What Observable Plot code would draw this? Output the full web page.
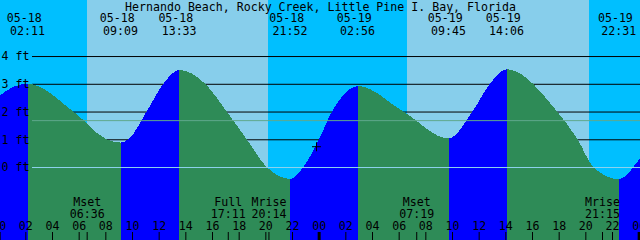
<!DOCTYPE html>
<html><head><meta charset="utf-8">
<script src="https://cdn.jsdelivr.net/npm/d3@7"></script>
<script src="https://cdn.jsdelivr.net/npm/@observablehq/plot@0.6"></script>
<style>
html,body{margin:0;padding:0;background:#fff;}
#chart svg{display:block;}
</style>
</head><body><div id="chart"></div>
<script>
// ---------- data ----------
const title = "Hernando Beach, Rocky Creek, Little Pine I. Bay, Florida";

// tide extremes labelled along the top
const tideDates  = ["05-18","05-18","05-18","05-18","05-19","05-19","05-19","05-19"];
const tideTimes  = ["02:11","09:09","13:33","21:52","02:56","09:45","14:06","22:31"];
const tideLevels = [3.0, 0.88, 3.5, -0.43, 2.92, 1.03, 3.52, -0.44];

// extremes just outside the visible window (estimated)
const prevStamp = "05-17 20:30", prevLevel = -0.4;
const nextStamp = "05-20 03:30", nextLevel = 2.9;

// intermediate curve readings (level crossings)
const readStamps = ["05-18 00:06","05-18 05:36","05-18 08:06","05-18 09:44","05-18 11:06",
  "05-18 12:21","05-18 15:29","05-18 17:06","05-18 18:36","05-18 20:06","05-18 22:51",
  "05-19 00:02","05-19 01:00","05-19 06:21","05-19 11:32","05-19 12:51","05-19 17:53",
  "05-19 19:25","05-19 20:36","05-20 00:06"];
const readLevels = [2.58, 2.0, 1.0, 1.0, 2.0, 3.0, 3.0, 2.0, 1.0, 0.0, 0.0,
  1.0, 2.0, 2.0, 2.0, 3.0, 2.0, 1.0, 0.0, 0.31];

const sunriseStamps = ["05-18 06:38","05-19 06:38"];
const sunsetStamps  = ["05-18 20:14","05-19 20:16"];

const moonNames  = ["Mset","Full","Mrise","Mset","Mrise"];
const moonStamps = ["05-18 06:36","05-18 17:11","05-18 20:14","05-19 07:19","05-19 21:15"];

const hourTicks  = [0,2,4,6,8,10,12,14,16,18,20,22,24,26,28,30,32,34,36,38,40,42,44,46,48];
const levelTicks = [0,1,2,3,4];
const meanLevel  = 1.69;

const nowStamp = "05-18 23:48", nowLevel = 0.75;

const startStamp = "05-18 00:06", endStamp = "05-20 00:06";
const yDomain = [-2.63, 6.02];

// ---------- helpers ----------
function parse(s) {
  const [md, hm] = s.split(" ");
  const day = +md.split("-")[1];
  const [H, M] = hm.split(":").map(Number);
  return (day - 18) * 24 + H + M / 60;
}
const pad = n => String(n).padStart(2, "0");

const extremes = [{t: parse(prevStamp), v: prevLevel}]
  .concat(tideDates.map((d, i) => ({t: parse(d + " " + tideTimes[i]), v: tideLevels[i], date: d, time: tideTimes[i]})))
  .concat([{t: parse(nextStamp), v: nextLevel}]);
const shown = extremes.filter(d => d.date);
const curve = extremes.map(d => ({t: d.t, v: d.v}))
  .concat(readStamps.map((s, i) => ({t: parse(s), v: readLevels[i]})))
  .sort((a, b) => a.t - b.t);
const days = sunriseStamps.map((r, i) => ({rise: parse(r), set: parse(sunsetStamps[i])}));
const moon = moonStamps.map((s, i) => ({t: parse(s), label: moonNames[i] + "\n" + s.split(" ")[1]}));
const hours = hourTicks.map(h => ({t: h, label: pad(h % 24)}));

const W = 640, H = 240;
const xDomain = [parse(startStamp), parse(endStamp)];
const FONT = "'DejaVu Sans Mono', monospace";
const FS = 11.6;

const plusSymbol = {
  draw(ctx, size) {
    const r = Math.sqrt(size / Math.PI);
    ctx.moveTo(-r, 0); ctx.lineTo(r, 0);
    ctx.moveTo(0, -r); ctx.lineTo(0, r);
  }
};

const txt = {fontFamily: FONT, fontSize: FS, fill: "black"};

const svg = Plot.plot({
  width: W, height: H, margin: 0,
  x: {domain: xDomain, range: [0, W], axis: null},
  y: {domain: yDomain, range: [H, 0], axis: null},
  style: {fontFamily: FONT, fontSize: FS + "px", background: "#00bfff", color: "black"},
  marks: [
    Plot.frame({fill: "#00bfff", stroke: "none"}),
    Plot.rect(days, {x1: "rise", x2: "set", fill: "#87ceeb", shapeRendering: "crispEdges"}),
    Plot.ruleY(levelTicks.filter(v => v !== 0), {y: d => d, stroke: "black", insetLeft: 32}),
    Plot.areaY(curve, {x: "t", y1: yDomain[0], y2: "v", curve: "monotone-x",
      fill: "url(#tideDir)", clip: true, shapeRendering: "crispEdges"}),
    Plot.ruleY([0], {y: d => d, stroke: "#8fd3ee", insetLeft: 32}),
    Plot.ruleY([meanLevel], {y: d => d, stroke: "#5fa88c", insetLeft: 32}),
    Plot.dot([{t: parse(nowStamp), v: nowLevel}], {x: "t", y: "v", r: 4.5, symbol: plusSymbol,
      stroke: "black", fill: "none", strokeWidth: 1}),
    // title and extremes
    Plot.text([title], {text: d => d, frameAnchor: "top", lineAnchor: "bottom", dy: 10, ...txt}),
    Plot.text(shown, {x: "t", text: "date", frameAnchor: "top", lineAnchor: "bottom", dy: 21.3, dx: -4, ...txt}),
    Plot.text(shown, {x: "t", text: "time", frameAnchor: "top", lineAnchor: "bottom", dy: 34.3, dx: -0.7, ...txt}),
    // level labels
    Plot.text(levelTicks, {y: d => d, text: d => d + " ft", frameAnchor: "left", textAnchor: "start", dx: 1, ...txt}),
    // moon events
    Plot.text(moon, {x: "t", text: "label", frameAnchor: "bottom", lineAnchor: "bottom", dy: -23, ...txt}),
    Plot.ruleX(moon, {x: "t", stroke: "black", insetTop: 232}),
    // hour ticks
    Plot.ruleX(hours.filter(d => d.t % 24 !== 0), {x: "t", stroke: "black", insetTop: 232}),
    Plot.ruleX(hours.filter(d => d.t % 24 === 0), {x: "t", stroke: "black", strokeWidth: 3, insetTop: 232}),
    Plot.text(hours, {x: "t", text: "label", frameAnchor: "bottom", lineAnchor: "bottom", dy: -11, ...txt})
  ]
});

// rising (blue) / falling (seagreen) colouring between successive extremes
const xs = Plot.scale({x: {domain: xDomain, range: [0, W]}});
const ns = "http://www.w3.org/2000/svg";
const defs = document.createElementNS(ns, "defs");
const grad = document.createElementNS(ns, "linearGradient");
grad.setAttribute("id", "tideDir");
grad.setAttribute("gradientUnits", "userSpaceOnUse");
grad.setAttribute("x1", 0); grad.setAttribute("x2", W);
grad.setAttribute("y1", 0); grad.setAttribute("y2", 0);
const clamp = v => Math.max(0, Math.min(1, v));
for (let i = 0; i < extremes.length - 1; i++) {
  const a = extremes[i], b = extremes[i + 1];
  const color = b.v > a.v ? "#0000ff" : "#2e8b57";
  for (const t of [a.t, b.t]) {
    const st = document.createElementNS(ns, "stop");
    st.setAttribute("offset", clamp(xs.apply(t) / W));
    st.setAttribute("stop-color", color);
    grad.appendChild(st);
  }
}
defs.appendChild(grad);
const svgEl = svg.tagName.toLowerCase() === "svg" ? svg : svg.querySelector("svg");
svgEl.insertBefore(defs, svgEl.firstChild);
document.getElementById("chart").appendChild(svg);
</script>
</body></html>
